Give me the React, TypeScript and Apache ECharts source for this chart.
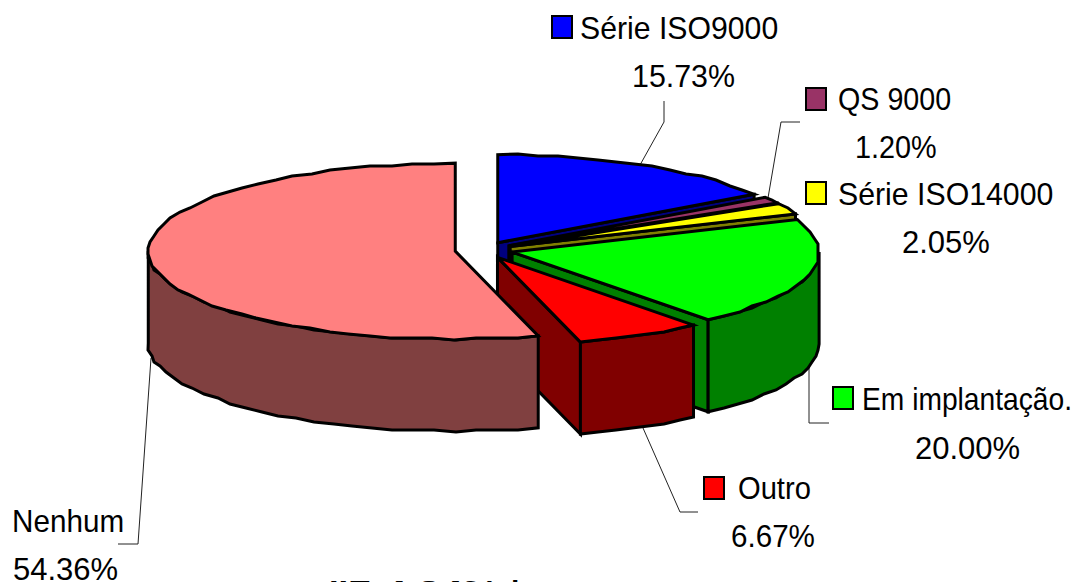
import React, { useEffect, useRef } from "react";
import * as echarts from "echarts";

const sliceNames = ["Série ISO9000", "QS 9000", "Série ISO14000", "Em implantação.", "Outro", "Nenhum"];
const sliceValues = [15.73, 1.2, 2.05, 20.0, 6.67, 54.36];
const percentLabels = ["15.73%", "1.20%", "2.05%", "20.00%", "6.67%", "54.36%"];
const topColors = ["#0000FF", "#993366", "#FFFF00", "#00FF00", "#FF0000", "#FF8080"];
const sideColors = ["#000080", "#4D1933", "#808000", "#008000", "#800000", "#804040"];
const captionParts = ["IIE", "4.34%", "da amostra"];

// layout: [left, centreY, scaleX] of the name, and of the percent
const nameLayout = [
  [580, 28, 0.975], [838, 99, 0.925], [838, 194, 0.977], [862, 399, 0.91], [738, 488, 0.94], [12, 521, 0.957],
];
const percentLayout = [
  [632, 76, 0.98], [855, 147, 0.93], [902, 242, 1], [915, 448, 1], [731, 536, 0.955], [13, 569, 1],
];
const swatchLayout: (number[] | null)[] = [
  [552, 16], [806, 88], [806, 182], [833, 387], [704, 477], null,
];
const captionLayout = [
  [329, 1.15], [384, 1.35], [501, 1],
];
const leaderLines = [
  [[664, 101], [664, 122], [640, 165]],
  [[800, 122], [781, 122], [768, 198]],
  [[809, 362], [809, 423], [829, 423]],
  [[643, 428], [680, 512], [698, 512]],
  [[151, 358], [138, 544], [118, 544]],
];

const CX = 484, CY = 250, RX = 307, RY = 88, DEPTH = 92, EXPLODE = 29;
const total = sliceValues.reduce((a, b) => a + b, 0);
const rad = (d: number) => (d * Math.PI) / 180;

function arcPoints(ax: number, ay: number, a: number, b: number, dy = 0) {
  const pts: number[][] = [];
  const n = Math.max(1, Math.ceil(Math.abs(b - a) / 4));
  for (let i = 0; i <= n; i++) {
    const t = a + ((b - a) * i) / n;
    let x = ax + RX * Math.sin(rad(t));
    let y = ay - RY * Math.cos(rad(t)) + dy;
    if (i > 0 && i < n) {
      // coarse device grid, as in the old renderer that drew the original
      x = Math.round(x / 2) * 2;
      y = Math.round(y / 2) * 2;
    }
    pts.push([x, y]);
  }
  return pts;
}

const renderItem = (params: any, api: any) => {
  const idx = params.dataIndex;
  let before = 0;
  for (let i = 0; i < idx; i++) before += sliceValues[i];
  const start = (before / total) * 360;
  const end = ((before + api.value(0)) / total) * 360;
  const mid = (start + end) / 2;
  const ax = CX + EXPLODE * Math.sin(rad(mid));
  const ay = CY - EXPLODE * (RY / RX) * Math.cos(rad(mid));
  const border = { stroke: "#000", lineWidth: 3, lineJoin: "miter" };
  const side = { fill: sideColors[idx], ...border };
  const children: any[] = [];

  if (end < 180) {
    const p = arcPoints(ax, ay, end, end)[0];
    children.push({
      type: "polygon",
      shape: { points: [[ax, ay], p, [p[0], p[1] + DEPTH], [ax, ay + DEPTH]] },
      style: side,
    });
  }
  const wa = Math.max(start, 90);
  const wb = Math.min(end, 270);
  if (wb > wa) {
    const upper = arcPoints(ax, ay, wa, wb);
    const lower = arcPoints(ax, ay, wa, wb, DEPTH).reverse();
    children.push({ type: "polygon", shape: { points: [...upper, ...lower] }, style: side });
  }
  children.push({
    type: "polygon",
    shape: { points: [[ax, ay], ...arcPoints(ax, ay, start, end)] },
    style: { fill: topColors[idx], ...border },
  });
  return { type: "group", children };
};

const graphics: any[] = [];
sliceNames.forEach((name, i) => {
  const [nx, ny, ns] = nameLayout[i];
  const [px, py, ps] = percentLayout[i];
  const font = { fontFamily: "Liberation Sans", fontSize: 31, fill: "#000", textAlign: "left", textVerticalAlign: "middle" };
  graphics.push({ type: "text", x: nx, y: ny, scaleX: ns, style: { text: name, ...font } });
  graphics.push({ type: "text", x: px, y: py, scaleX: ps, style: { text: percentLabels[i], ...font } });
  const sw = swatchLayout[i];
  if (sw) {
    graphics.push({
      type: "rect",
      shape: { x: sw[0], y: sw[1], width: 20, height: 22 },
      style: { fill: topColors[i], stroke: "#000", lineWidth: 2 },
    });
  }
});
leaderLines.forEach((pts) => {
  graphics.push({ type: "polyline", shape: { points: pts }, style: { stroke: "#222", lineWidth: 1, fill: "none" } });
});
captionParts.forEach((part, i) => {
  graphics.push({
    type: "text",
    x: captionLayout[i][0],
    y: 606,
    scaleX: captionLayout[i][1],
    style: {
      text: part,
      fontFamily: "Liberation Sans",
      fontWeight: "bold",
      fontSize: 30,
      fill: "#000",
      textAlign: "left",
      textVerticalAlign: "bottom",
    },
  });
});

export default function App() {
  const ref = useRef<HTMLDivElement>(null);
  useEffect(() => {
    document.body.style.margin = "0";
    document.body.style.overflow = "hidden";
    const chart = echarts.init(ref.current!, null, { renderer: "svg" });
    chart.setOption({
      animation: false,
      backgroundColor: "#fff",
      graphic: { elements: graphics },
      series: [
        {
          type: "custom",
          coordinateSystem: "none",
          renderItem,
          silent: true,
          data: sliceValues.map((v, i) => ({ name: sliceNames[i], value: [v] })),
        },
      ],
    });
    return () => chart.dispose();
  }, []);
  return <div ref={ref} style={{ width: 1084, height: 582 }} />;
}
